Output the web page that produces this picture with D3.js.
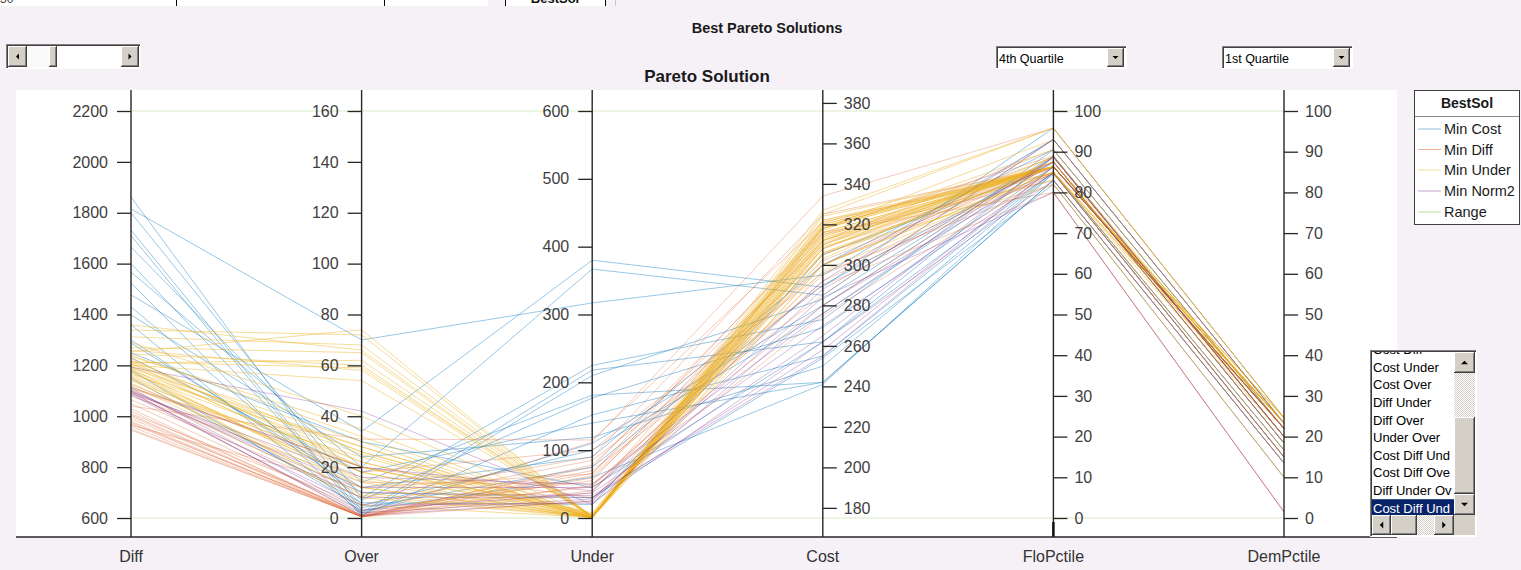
<!DOCTYPE html>
<html>
<head>
<meta charset="utf-8">
<script src="https://cdn.jsdelivr.net/npm/d3@7"></script>
<style>
  body { margin: 0; background: #f5f1f6; }
  svg { display: block; font-family: "Liberation Sans", Arial, sans-serif; }
</style>
</head>
<body>
<svg id="chart" width="1521" height="570"></svg>
<script>
// ---- data ----
const dimensions = ["Diff", "Over", "Under", "Cost", "FloPctile", "DemPctile"];
const axisMin = [600, 0, 0, 175, 0, 0];
const axisMax = [2200, 160, 600, 376, 100, 100];
const diffTicks = [600, 800, 1000, 1200, 1400, 1600, 1800, 2000, 2200];
const overTicks = [0, 20, 40, 60, 80, 100, 120, 140, 160];
const underTicks = [0, 100, 200, 300, 400, 500, 600];
const costTicks = [180, 200, 220, 240, 260, 280, 300, 320, 340, 360, 380];
const floTicks = [0, 10, 20, 30, 40, 50, 60, 70, 80, 90, 100];
const demTicks = [0, 10, 20, 30, 40, 50, 60, 70, 80, 90, 100];

const groupNames = ["Min Cost", "Min Diff", "Min Under", "Min Norm2", "Range"];

// each row: [Diff, Over, Under, Cost, FloPctile, DemPctile]
const minCost = [
  [1862, 3, 60, 241, 84.7, 15],
  [1815, 70, 317, 295, 93, 23.3],
  [1800, 8, 225, 273, 90.5, 22],
  [1732, 2, 218, 262, 88.7, 20],
  [1665, 14, 181, 242, 83, 13.5],
  [1710, 1, 210, 283, 89, 20],
  [1600, 5, 100, 276, 87.5, 18.4],
  [1567, 20, 367, 285, 93, 23.3],
  [1524, 1, 152, 255, 85, 16.7],
  [1477, 34, 380, 289, 95.8, 24.6],
  [1430, 7, 177, 269, 86.3, 22],
  [1398, 24, 119, 250, 84.7, 15],
  [1360, 2, 110, 280, 88.7, 20],
  [1288, 12, 90, 300, 90.5, 22],
  [1249, 30, 45, 262, 85, 16.7],
  [1230, 18, 140, 242, 83, 13.5],
  [1300, 10, 30, 254, 82, 10],
  [1180, 4, 75, 290, 87.5, 18.4],
  [1150, 6, 20, 305, 86.3, 23.3]
];
const minDiff = [
  [1040, 31, 115, 321, 86.3, 22],
  [1020, 1, 112, 334, 95.8, 24.6],
  [960, 0.5, 78, 310, 88.7, 20],
  [970, 1, 66, 305, 87.5, 18.4],
  [980, 0.5, 59, 300, 86.3, 22],
  [990, 2, 46, 295, 84.7, 15],
  [1000, 0.5, 37, 315, 83, 13.5],
  [1010, 5, 85, 290, 80, 1.5],
  [1030, 0.5, 70, 285, 93, 23.3],
  [1050, 3, 55, 312, 90.5, 22],
  [1065, 8, 90, 325, 86.3, 23.3],
  [1080, 14, 50, 280, 88.7, 20],
  [1095, 1, 40, 300, 87.5, 18.4],
  [1110, 20, 30, 275, 85, 16.7],
  [945, 0.5, 25, 308, 86.3, 22],
  [965, 12, 65, 318, 89, 20],
  [1125, 18, 100, 296, 82, 10],
  [950, 0.5, 48, 292, 84.7, 15],
  [975, 0.5, 62, 302, 86.3, 23.3],
  [1005, 1, 75, 316, 80, 1.5]
];
const minUnder = [
  [1359, 66, 2, 322, 86.3, 23.3],
  [1339, 72, 1, 318, 86.3, 22],
  [1312, 68, 3, 325, 95.8, 24.6],
  [1253, 74, 0.5, 316, 86.3, 23.3],
  [1245, 60, 1, 312, 85, 22],
  [1213, 59, 2, 320, 86.3, 24.6],
  [1201, 54, 4, 308, 87.5, 23.3],
  [1190, 28, 1, 314, 86.3, 22],
  [1180, 25, 0.5, 310, 85, 23.3],
  [1170, 22, 2, 305, 86.3, 22],
  [1160, 18, 3, 318, 86.3, 24.6],
  [1150, 15, 1, 312, 87.5, 20],
  [1140, 20, 5, 300, 85, 22],
  [1130, 12, 0.5, 316, 86.3, 23.3],
  [1120, 10, 2, 322, 84.7, 15],
  [1110, 24, 1, 297, 85, 16.7],
  [1205, 30, 0.5, 308, 88.7, 22],
  [1220, 26, 6, 327, 95.8, 24.6],
  [1195, 20, 8, 303, 88.7, 20],
  [1175, 14, 1, 320, 86.3, 23.3],
  [1240, 32, 3, 310, 87.5, 18.4],
  [1100, 8, 1, 313, 86.3, 24.6],
  [1260, 58, 0.5, 300, 85, 20],
  [1290, 40, 2, 306, 86.3, 22],
  [1185, 5, 1, 318, 93, 23.3],
  [1155, 16, 0.5, 324, 86.3, 22],
  [1215, 22, 1, 315, 86.3, 22],
  [1208, 18, 0.5, 311, 86.3, 23.3],
  [1198, 26, 2, 319, 86.3, 22],
  [1188, 12, 1, 309, 83, 13.5],
  [1228, 20, 0.5, 321, 86.3, 22],
  [1165, 28, 3, 314, 86.3, 22],
  [1145, 9, 1, 317, 90.5, 22],
  [1235, 35, 1, 306, 82, 10],
  [1210, 62, 2, 312, 86.3, 22],
  [1270, 65, 1, 319, 86.3, 23.3]
];
const minNorm2 = [
  [1193, 42, 20, 280, 86.3, 22],
  [1111, 3, 37, 265, 88.7, 20],
  [1105, 8, 30, 258, 86.3, 22],
  [1100, 12, 45, 270, 84.7, 15],
  [1095, 1, 25, 288, 87.5, 18.4],
  [1091, 16, 50, 276, 88.7, 20],
  [1088, 5, 22, 262, 83, 13.5],
  [1115, 20, 40, 292, 93, 23.3],
  [1098, 10, 33, 255, 86.3, 22],
  [1085, 2, 28, 284, 80, 1.5]
];
const rangeRows = [
  [2200, 160, 600, 376, 100, 100],
  [600, 0, 0, 175, 0, 0]
];

const quartileA = "4th Quartile";
const quartileB = "1st Quartile";
const listItems = ["Cost Diff", "Cost Under", "Cost Over", "Diff Under", "Diff Over",
  "Under Over", "Cost Diff Und", "Cost Diff Ove", "Diff Under Ov", "Cost Diff Und"];
const selectedItem = 9;

// ---- styling ----
const groupColors = ["#0072BD", "#D95319", "#EDB120", "#7E2F8E", "#77AC30"];
const groupAlpha = [0.4, 0.3, 0.45, 0.32, 0.28];
const groupRows = [minCost, minDiff, minUnder, minNorm2, rangeRows];
const face = "#d4d0c8";

const svg = d3.select("#chart");

// pattern used for scroll-bar troughs
const defs = svg.append("defs");
const pat = defs.append("pattern").attr("id", "dither").attr("width", 2).attr("height", 2)
  .attr("patternUnits", "userSpaceOnUse");
pat.append("rect").attr("width", 2).attr("height", 2).attr("fill", "#ffffff");
pat.append("rect").attr("width", 1).attr("height", 1).attr("fill", face);
pat.append("rect").attr("x", 1).attr("y", 1).attr("width", 1).attr("height", 1).attr("fill", face);

function hline(g, x1, x2, y, c, w = 1) {
  g.append("line").attr("x1", x1).attr("x2", x2).attr("y1", y).attr("y2", y)
    .attr("stroke", c).attr("stroke-width", w);
}
function vline(g, x, y1, y2, c, w = 1) {
  g.append("line").attr("x1", x).attr("x2", x).attr("y1", y1).attr("y2", y2)
    .attr("stroke", c).attr("stroke-width", w);
}
// classic raised button
function raised(g, x, y, w, h) {
  g.append("rect").attr("x", x).attr("y", y).attr("width", w).attr("height", h).attr("fill", face);
  hline(g, x, x + w, y + 0.5, "#ffffff");
  vline(g, x + 0.5, y, y + h, "#ffffff");
  hline(g, x, x + w, y + h - 0.5, "#404040");
  vline(g, x + w - 0.5, y, y + h, "#404040");
  hline(g, x + 1, x + w - 1, y + h - 1.5, "#808080");
  vline(g, x + w - 1.5, y + 1, y + h - 1, "#808080");
}
// classic sunken frame
function sunken(g, x, y, w, h, fill) {
  g.append("rect").attr("x", x).attr("y", y).attr("width", w).attr("height", h).attr("fill", fill);
  hline(g, x, x + w, y + 0.5, "#808080");
  vline(g, x + 0.5, y, y + h, "#808080");
  hline(g, x + 1, x + w - 1, y + 1.5, "#404040");
  vline(g, x + 1.5, y + 1, y + h - 1, "#404040");
  hline(g, x, x + w, y + h - 0.5, "#ffffff");
  vline(g, x + w - 0.5, y, y + h, "#ffffff");
}
function arrow(g, cx, cy, dir, s = 3) {
  let p;
  if (dir === "left") p = `M${cx + s / 2},${cy - s} L${cx - s / 2},${cy} L${cx + s / 2},${cy + s} Z`;
  if (dir === "right") p = `M${cx - s / 2},${cy - s} L${cx + s / 2},${cy} L${cx - s / 2},${cy + s} Z`;
  if (dir === "up") p = `M${cx - s},${cy + s / 2} L${cx},${cy - s / 2} L${cx + s},${cy + s / 2} Z`;
  if (dir === "down") p = `M${cx - s},${cy - s / 2} L${cx},${cy + s / 2} L${cx + s},${cy - s / 2} Z`;
  g.append("path").attr("d", p).attr("fill", "#000");
}

// ---- strip of a table above the figure ----
const tableStrip = svg.append("g");
tableStrip.append("rect").attr("x", 0).attr("y", 0).attr("width", 488).attr("height", 6).attr("fill", "#fff");
vline(tableStrip, 176.5, 0, 6, "#000");
vline(tableStrip, 384.5, 0, 6, "#000");
tableStrip.append("rect").attr("x", 505).attr("y", 0).attr("width", 100).attr("height", 6).attr("fill", "#fff");
vline(tableStrip, 505.5, 0, 6, "#000");
vline(tableStrip, 605.5, 0, 6, "#000");
vline(tableStrip, 615.5, 0, 6, "#c8c8c8");
defs.append("clipPath").attr("id", "topclip").append("rect")
  .attr("x", 0).attr("y", 0).attr("width", 620).attr("height", 6);
const tt = tableStrip.append("g").attr("clip-path", "url(#topclip)");
tt.append("text").attr("x", 555).attr("y", 3).attr("text-anchor", "middle")
  .attr("font-size", 13).attr("font-weight", "bold").attr("fill", "#111").text("BestSol");
tt.append("text").attr("x", 0).attr("y", 3).attr("font-size", 12).attr("fill", "#444").text("30");

// ---- titles ----
svg.append("text").attr("x", 767).attr("y", 33).attr("text-anchor", "middle")
  .attr("font-size", 14.5).attr("font-weight", "bold").attr("fill", "#1a1a1a")
  .text("Best Pareto Solutions");
svg.append("text").attr("x", 707).attr("y", 82).attr("text-anchor", "middle")
  .attr("font-size", 17).attr("font-weight", "bold").attr("fill", "#1a1a1a")
  .text("Pareto Solution");

// ---- slider ----
const sl = svg.append("g");
sunken(sl, 6, 44, 135, 25, "#fff");
raised(sl, 8, 46, 19, 21); arrow(sl, 17.5, 56.5, "left");
raised(sl, 121, 46, 18, 21); arrow(sl, 130, 56.5, "right");
sl.append("rect").attr("x", 27).attr("y", 46).attr("width", 22).attr("height", 21).attr("fill", "#fafafa");
raised(sl, 49, 46, 8, 21);

// ---- drop-down menus ----
function dropdown(x, label) {
  const g = svg.append("g");
  sunken(g, x, 46, 131, 23, "#fff");
  g.append("text").attr("x", x + 3).attr("y", 62.5).attr("font-size", 12.5)
    .attr("fill", "#000").text(label);
  raised(g, x + 111, 48, 17, 19);
  arrow(g, x + 119.5, 57.5, "down", 3);
}
dropdown(996, quartileA);
dropdown(1222, quartileB);

// ---- plot area ----
const plotLeft = 16, plotRight = 1397, plotTop = 90, plotBottom = 537;
const yTop = 111, yBottom = 518;
svg.append("rect").attr("x", plotLeft).attr("y", plotTop)
  .attr("width", plotRight - plotLeft).attr("height", plotBottom - plotTop).attr("fill", "#fff");

const x = d3.scalePoint().domain(dimensions).range([131, 1284]);
const y = dimensions.map((d, i) =>
  d3.scaleLinear().domain([axisMin[i], axisMax[i]]).range([yBottom, yTop]));

const line = d3.line()
  .x((v, i) => x(dimensions[i]))
  .y((v, i) => y[i](v));

// draw order: range first, then groups in legend order
const order = [4, 0, 1, 2, 3];
const lines = svg.append("g").attr("fill", "none");
order.forEach(gi => {
  lines.append("g")
    .selectAll("path")
    .data(groupRows[gi])
    .join("path")
    .attr("d", line)
    .attr("stroke", groupColors[gi])
    .attr("stroke-opacity", groupAlpha[gi])
    .attr("stroke-width", 1);
});

// ---- axes ----
const tickSets = [diffTicks, overTicks, underTicks, costTicks, floTicks, demTicks];
dimensions.forEach((d, i) => {
  const leftSide = i < 3;
  const ax = (leftSide ? d3.axisLeft(y[i]) : d3.axisRight(y[i]))
    .tickValues(tickSets[i]).tickSize(14).tickPadding(leftSide ? 9 : 7)
    .tickFormat(d3.format("d"));
  const g = svg.append("g").attr("transform", `translate(${x(d)},0)`).call(ax);
  g.select(".domain").remove();
  g.selectAll(".tick line").attr("stroke", "#262626").attr("stroke-width", 1.3);
  g.selectAll(".tick text").attr("fill", "#404040").attr("font-size", 16)
    .attr("font-family", "Liberation Sans, Arial, sans-serif");
  vline(svg, x(d), plotTop, plotBottom, "#262626", 1.4);
  svg.append("text").attr("x", x(d)).attr("y", 562).attr("text-anchor", "middle")
    .attr("font-size", 16).attr("fill", "#333").text(d);
});
vline(svg, x("FloPctile"), 522, plotBottom, "#111", 2.5);
hline(svg, plotLeft, plotRight, plotBottom, "#262626", 1.6);

// ---- legend ----
const lg = svg.append("g");
lg.append("rect").attr("x", 1414.5).attr("y", 90.5).attr("width", 105).attr("height", 134)
  .attr("fill", "#fff").attr("stroke", "#404040").attr("stroke-width", 1);
lg.append("text").attr("x", 1467).attr("y", 108).attr("text-anchor", "middle")
  .attr("font-size", 14).attr("font-weight", "bold").attr("fill", "#1a1a1a").text("BestSol");
hline(lg, 1415, 1519, 116.5, "#8c8c8c");
const legendY = [129, 149.5, 170, 191, 212];
groupNames.forEach((n, i) => {
  lg.append("line").attr("x1", 1418).attr("x2", 1441).attr("y1", legendY[i]).attr("y2", legendY[i])
    .attr("stroke", groupColors[i]).attr("stroke-opacity", 0.45).attr("stroke-width", 1);
  lg.append("text").attr("x", 1444).attr("y", legendY[i] + 5.3).attr("font-size", 14.5)
    .attr("fill", "#1a1a1a").text(n);
});

// ---- list box ----
const lb = svg.append("g");
sunken(lb, 1370, 350, 107, 187, "#fff");
defs.append("clipPath").attr("id", "listclip").append("rect")
  .attr("x", 1372).attr("y", 352).attr("width", 82).attr("height", 163);
const items = lb.append("g").attr("clip-path", "url(#listclip)");
const rowH = 17.6, lastCenter = 508;
listItems.forEach((t, i) => {
  const cy = lastCenter - (listItems.length - 1 - i) * rowH;
  if (i === selectedItem) {
    items.append("rect").attr("x", 1372).attr("y", cy - rowH / 2).attr("width", 82)
      .attr("height", rowH).attr("fill", "#0a246a");
  }
  items.append("text").attr("x", 1373).attr("y", cy + 4.5).attr("font-size", 13)
    .attr("fill", i === selectedItem ? "#fff" : "#000").text(t);
});
// vertical scroll bar
lb.append("rect").attr("x", 1454).attr("y", 352).attr("width", 21).attr("height", 163).attr("fill", "url(#dither)");
raised(lb, 1454, 352, 21, 21); arrow(lb, 1464.5, 362.5, "up", 3.5);
raised(lb, 1454, 417, 21, 77);
raised(lb, 1454, 494, 21, 21); arrow(lb, 1464.5, 504.5, "down", 3.5);
// horizontal scroll bar
lb.append("rect").attr("x", 1372).attr("y", 515).attr("width", 82).attr("height", 20).attr("fill", "url(#dither)");
raised(lb, 1372, 515, 19, 20); arrow(lb, 1381.5, 525, "left", 3.5);
raised(lb, 1391, 515, 26, 20);
raised(lb, 1434, 515, 20, 20); arrow(lb, 1444, 525, "right", 3.5);
lb.append("rect").attr("x", 1454).attr("y", 515).attr("width", 21).attr("height", 20).attr("fill", face);
</script>
</body>
</html>
